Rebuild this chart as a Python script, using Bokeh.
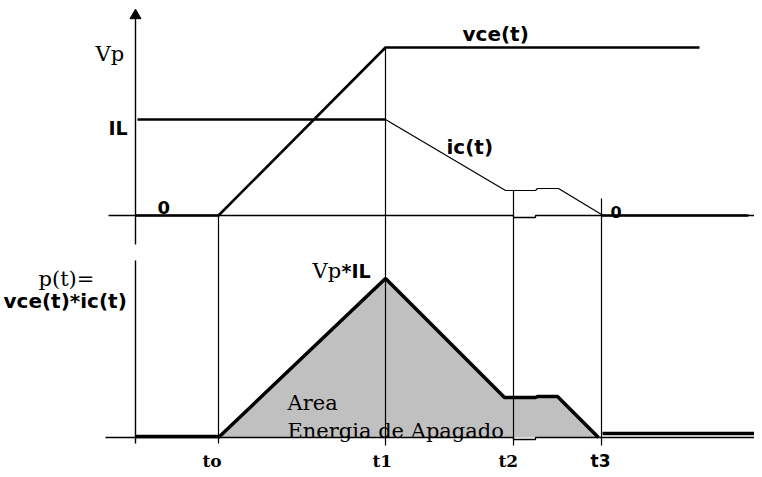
from bokeh.plotting import figure
from bokeh.models import Range1d
from bokeh.core.properties import value
from bokeh.embed import file_html
from bokeh.resources import INLINE

# ---- sketch data (x: time axis, y: level, in sketch units; y grows downward) ----
instants = ["to", "t1", "t2", "t3"]
instant_x = [218, 385, 513, 601]

# vce(t): 0 until to, ramps up to Vp at t1, then stays at Vp
vce_x = [135, 218, 385, 699]
vce_y = [215, 215, 47, 47]

# ic(t): IL until t1, falls to a tail, tail until t3, then 0
ic_on_x = [137, 385]
ic_on_y = [119, 119]
ic_fall_x = [385, 505, 535, 537, 558, 601]
ic_fall_y = [119, 190, 190, 188, 188, 214]
ic_off_x = [601, 748]
ic_off_y = [215, 215]

# p(t) = vce(t)*ic(t)
p_pre_x = [135, 218]
p_pre_y = [436, 436]
p_x = [218, 385, 504, 535, 537, 557, 598]
p_y = [437, 278, 397, 397, 396, 396, 437]
p_post_x = [602, 758]
p_post_y = [433, 433]

# baselines of the two panels
top_base_x = [108, 513, 513, 535, 535, 762]
top_base_y = [215, 215, 217, 217, 215, 215]
bot_base_x = [105, 513, 513, 535, 535, 762]
bot_base_y = [437, 437, 439, 439, 437, 437]

# vertical guide lines (x, y_top, y_bottom)
axis_x = 135
axis_segments = [(12, 244), (260, 443)]
guide_top = [215, 47, 190, 198]
guide_bottom = [443, 445, 445, 445]

W, H = 754, 469
p = figure(width=W, height=H, output_backend="svg", toolbar_location=None,
           x_range=Range1d(0, W), y_range=Range1d(H, 0),
           min_border=0, outline_line_color=None)
p.axis.visible = False
p.grid.visible = False
p.background_fill_color = "white"

# shaded energy area
p.patch(p_x, p_y, fill_color="#c0c0c0", line_color=None)

# baselines
p.line(top_base_x, top_base_y, line_color="black", line_width=1.3)
p.line(bot_base_x, bot_base_y, line_color="black", line_width=1.3)

# vertical axis with arrow
for y0, y1 in axis_segments:
    p.line([axis_x, axis_x], [y0, y1], line_color="black", line_width=1.4)
p.scatter([axis_x], [15], marker="triangle", size=11, fill_color="black", line_color="black")

# guide lines at instants
for x, y0, y1 in zip(instant_x, guide_top, guide_bottom):
    p.line([x, x], [y0, y1], line_color="black", line_width=1.2)

# waveforms
p.line(vce_x, vce_y, line_color="black", line_width=2.6)
p.line(ic_on_x, ic_on_y, line_color="black", line_width=2.6)
p.line(ic_fall_x, ic_fall_y, line_color="black", line_width=1.2)
p.line(ic_off_x, ic_off_y, line_color="black", line_width=2.6)
p.line(p_pre_x, p_pre_y, line_color="black", line_width=3.5)
p.line(p_x, p_y, line_color="black", line_width=3.5)
p.line(p_post_x, p_post_y, line_color="black", line_width=3.5)

SANS = value("DejaVu Sans")
SERIF = value("DejaVu Serif")

def label(x, y, txt, font, size, style="normal"):
    p.text([x], [y], text=[txt], text_font=font, text_font_size=f"{size}px",
           text_font_style=style, text_color="black",
           text_align="left", text_baseline="alphabetic")

label(95, 53, "Vp", SERIF, 21)
label(108, 127, "IL", SANS, 19, "bold")
label(157, 207, "0", SANS, 18, "bold")
label(462, 33, "vce(t)", SANS, 20, "bold")
label(446, 146, "ic(t)", SANS, 20, "bold")
label(610, 211, "0", SANS, 16, "bold")
label(38, 278, "p(t)=", SERIF, 21)
label(3, 300, "vce(t)*ic(t)", SANS, 20, "bold")
label(312, 270, "Vp", SERIF, 21)
label(341, 270, "*IL", SANS, 19, "bold")
label(287, 402, "Area", SERIF, 21)
label(287, 430, "Energia de Apagado", SERIF, 21)

for name, x, font in zip(instants, [202, 372, 498, 590], [SERIF, SERIF, SERIF, SANS]):
    label(x, 460, name, font, 17, "bold")

open("out.html", "w").write(file_html(p, INLINE))
